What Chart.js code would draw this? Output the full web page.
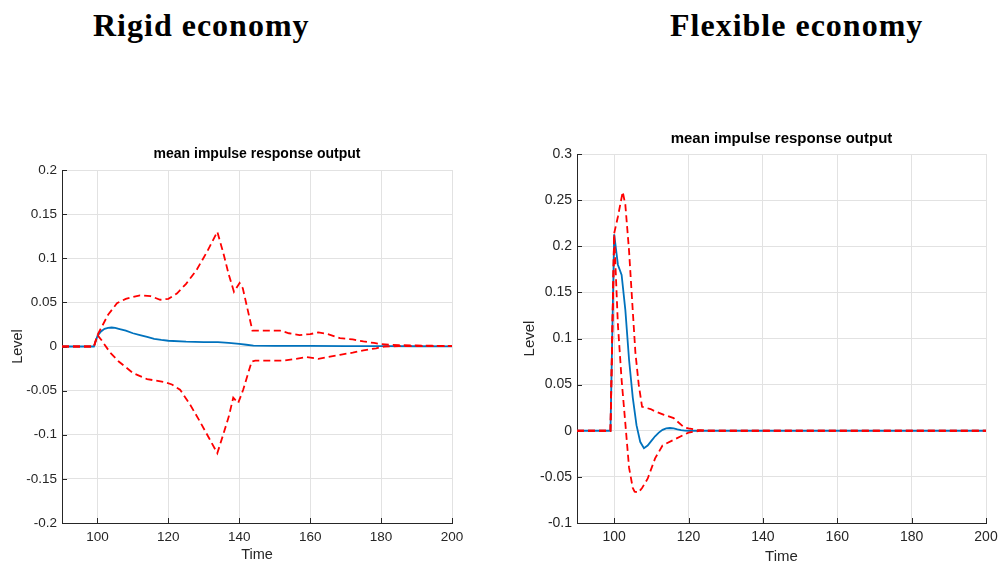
<!DOCTYPE html>
<html>
<head>
<meta charset="utf-8">
<script src="https://cdn.jsdelivr.net/npm/chart.js@4.4.1/dist/chart.umd.min.js"></script>
<style>
  body { margin:0; background:#fff; width:998px; height:564px; overflow:hidden; position:relative; }
  .head { position:absolute; font-family:'Liberation Serif', serif; font-weight:bold; font-size:32px; line-height:32px; letter-spacing:1px; color:#000; white-space:nowrap; }
  canvas { position:absolute; }
</style>
</head>
<body>
<div class="head" style="left:93px; top:9px;">Rigid economy</div>
<div class="head" style="left:670px; top:9px;">Flexible economy</div>
<canvas id="rigid-canvas" width="490" height="444" style="left:0; top:120px;"></canvas>
<canvas id="flex-canvas" width="498" height="466" style="left:500px; top:100px;"></canvas>
<script>
// x ticks shared by both panels
let timeTicks  = [100, 120, 140, 160, 180, 200];
let timeLabels = ['100', '120', '140', '160', '180', '200'];

// Rigid economy
let rigidYTicks  = [-0.2, -0.15, -0.1, -0.05, 0, 0.05, 0.1, 0.15, 0.2];
let rigidYLabels = ['-0.2', '-0.15', '-0.1', '-0.05', '0', '0.05', '0.1', '0.15', '0.2'];
let rigidMeanTime  = [90, 99, 100, 101, 102, 103, 104, 105, 106, 108, 110, 112, 114, 116, 118, 120, 125, 130, 134, 137, 140, 142, 144, 150, 160, 170, 180, 190, 200];
let rigidMean      = [0, 0, 0.012, 0.017, 0.020, 0.021, 0.0215, 0.021, 0.020, 0.018, 0.015, 0.013, 0.011, 0.0087, 0.0075, 0.0065, 0.0055, 0.005, 0.005, 0.004, 0.003, 0.002, 0.001, 0.0007, 0.0006, 0.0005, 0.0004, 0.0003, 0.0002];
let rigidUpperTime = [90, 99, 100, 103, 105.5, 108, 112, 115, 117.7, 120, 122.4, 125, 128, 131, 133.8, 135.5, 137, 138.5, 140.1, 141, 143.7, 151.5, 154, 157, 160, 162.3, 165, 168.4, 172, 175, 178, 180, 185, 190, 195, 200];
let rigidUpper     = [0, 0, 0.013, 0.036, 0.049, 0.054, 0.058, 0.057, 0.053, 0.054, 0.060, 0.071, 0.087, 0.108, 0.130, 0.106, 0.082, 0.062, 0.072, 0.066, 0.018, 0.018, 0.015, 0.013, 0.014, 0.016, 0.014, 0.0095, 0.008, 0.0057, 0.004, 0.0027, 0.0015, 0.0012, 0.0008, 0.0005];
let rigidLowerTime = [90, 99, 100, 101, 103.6, 106, 110, 114, 118.6, 121, 123.3, 126, 128.9, 131.5, 133.8, 135.3, 137, 138.3, 139.7, 141.1, 143.5, 144.5, 152.4, 156, 159, 162.3, 165, 168.4, 172, 175, 178.6, 181, 185, 190, 200];
let rigidLower     = [0, 0, 0.013, 0.008, -0.007, -0.017, -0.030, -0.037, -0.040, -0.043, -0.049, -0.065, -0.085, -0.104, -0.121, -0.102, -0.080, -0.058, -0.064, -0.049, -0.017, -0.016, -0.016, -0.014, -0.012, -0.014, -0.012, -0.0094, -0.007, -0.0045, -0.002, 0, 0.0004, 0.0005, 0.0005];

// Flexible economy
let flexYTicks  = [-0.1, -0.05, 0, 0.05, 0.1, 0.15, 0.2, 0.25, 0.3];
let flexYLabels = ['-0.1', '-0.05', '0', '0.05', '0.1', '0.15', '0.2', '0.25', '0.3'];
let flexMeanTime  = [90, 99, 100, 101, 102, 103, 104, 105, 106, 107, 108, 109, 110, 111, 112, 113, 114, 115, 116, 117, 118, 119, 120, 200];
let flexMean      = [0, 0, 0.213, 0.180, 0.169, 0.131, 0.077, 0.036, 0.006, -0.012, -0.019, -0.016, -0.011, -0.006, -0.002, 0.001, 0.0025, 0.003, 0.0025, 0.0015, 0.0007, 0.0002, 0, 0];
let flexUpperTime = [90, 99, 100, 101, 102.3, 103, 104, 105, 105.7, 106.6, 107.5, 109.8, 111, 113.4, 116, 117, 118.7, 120, 122.3, 125, 200];
let flexUpper     = [0, 0, 0.214, 0.232, 0.259, 0.245, 0.195, 0.13, 0.085, 0.05, 0.026, 0.0235, 0.021, 0.0173, 0.0137, 0.010, 0.004, 0.0025, 0.001, 0, 0];
let flexLowerTime = [90, 99, 100, 101, 102, 103, 104, 105, 105.5, 106.5, 107.5, 109, 111, 113, 116, 120, 123, 200];
let flexLower     = [0, 0, 0.213, 0.115, 0.055, 0.008, -0.040, -0.062, -0.066, -0.067, -0.062, -0.052, -0.030, -0.016, -0.0098, -0.002, 0, 0];

Chart.defaults.font.family = "'Liberation Sans', Arial, Helvetica, sans-serif";
Chart.defaults.color = '#262626';

function pairs(times, values) {
  return times.map((t, i) => ({x: t, y: values[i]}));
}

// MATLAB-style tick marks pointing into the plot
const inwardTicks = {
  id: 'inwardTicks',
  beforeDatasetsDraw(chart) {
    const {ctx, chartArea: a, scales: {x, y}} = chart;
    ctx.save();
    ctx.strokeStyle = '#262626';
    ctx.lineWidth = 1;
    ctx.beginPath();
    x.ticks.forEach(t => {
      const px = Math.round(x.getPixelForValue(t.value)) + 0.5;
      ctx.moveTo(px, a.bottom); ctx.lineTo(px, a.bottom - 5);
    });
    y.ticks.forEach(t => {
      const py = Math.round(y.getPixelForValue(t.value)) + 0.5;
      ctx.moveTo(a.left, py); ctx.lineTo(a.left + 5, py);
    });
    ctx.stroke();
    ctx.restore();
  }
};

function makeChart(id, cfg) {
  const ctx = document.getElementById(id).getContext('2d');
  return new Chart(ctx, {
    type: 'line',
    data: {
      datasets: [
        { label: 'upper', data: pairs(cfg.upperTime, cfg.upper), borderColor: '#ff0000', borderWidth: 1.8, borderDash: [7, 4], pointRadius: 0, fill: false, tension: 0, order: 0 },
        { label: 'lower', data: pairs(cfg.lowerTime, cfg.lower), borderColor: '#ff0000', borderWidth: 1.8, borderDash: [7, 4], pointRadius: 0, fill: false, tension: 0, order: 0 },
        { label: 'mean',  data: pairs(cfg.meanTime, cfg.mean),   borderColor: '#0072bd', borderWidth: 1.8, pointRadius: 0, fill: false, tension: 0, order: 1 }
      ]
    },
    options: {
      responsive: false,
      animation: false,
      layout: { padding: cfg.padding },
      plugins: {
        legend: { display: false },
        tooltip: { enabled: false },
        title: {
          display: true,
          fullSize: false,
          text: 'mean impulse response output',
          color: '#000',
          font: { size: cfg.titleSize, weight: 'bold' },
          padding: cfg.titlePad
        }
      },
      scales: {
        x: {
          type: 'linear',
          min: 90, max: 200,
          afterBuildTicks: s => { s.ticks = timeTicks.map(v => ({value: v})); },
          afterFit: s => { s.height = cfg.xHeight; s.paddingLeft = 0; s.paddingRight = 0; },
          ticks: { padding: 6, font: { size: cfg.tickSize }, callback: (v, i) => timeLabels[i] },
          grid: { color: '#e2e2e2', drawTicks: false },
          border: { color: '#262626', width: 1 },
          title: { display: true, text: 'Time', font: { size: cfg.labelSize }, padding: { top: 0, bottom: 0 } }
        },
        y: {
          min: cfg.yTicks[0], max: cfg.yTicks[cfg.yTicks.length - 1],
          afterBuildTicks: s => { s.ticks = cfg.yTicks.map(v => ({value: v})); },
          afterFit: s => { s.width = cfg.yWidth; s.paddingTop = 0; s.paddingBottom = 0; },
          ticks: { padding: 5, font: { size: cfg.tickSize }, callback: (v, i) => cfg.yLabels[i] },
          grid: { color: '#e2e2e2', drawTicks: false },
          border: { color: '#262626', width: 1 },
          title: { display: true, text: 'Level', font: { size: cfg.labelSize }, padding: { top: 9, bottom: 0 } }
        }
      }
    },
    plugins: [inwardTicks]
  });
}

makeChart('rigid-canvas', {
  meanTime: rigidMeanTime, mean: rigidMean,
  upperTime: rigidUpperTime, upper: rigidUpper,
  lowerTime: rigidLowerTime, lower: rigidLower,
  yTicks: rigidYTicks, yLabels: rigidYLabels,
  padding: { left: 0, top: 0, right: 38, bottom: 0 },
  yWidth: 62, xHeight: 41,
  titleSize: 14, titlePad: { top: 25.6, bottom: 7.6 },
  tickSize: 13.5, labelSize: 14.5
});

makeChart('flex-canvas', {
  meanTime: flexMeanTime, mean: flexMean,
  upperTime: flexUpperTime, upper: flexUpper,
  lowerTime: flexLowerTime, lower: flexLower,
  yTicks: flexYTicks, yLabels: flexYLabels,
  padding: { left: 12, top: 0, right: 12, bottom: 0 },
  yWidth: 65, xHeight: 43,
  titleSize: 15, titlePad: { top: 29.5, bottom: 6.5 },
  tickSize: 14, labelSize: 15
});
</script>
</body>
</html>
